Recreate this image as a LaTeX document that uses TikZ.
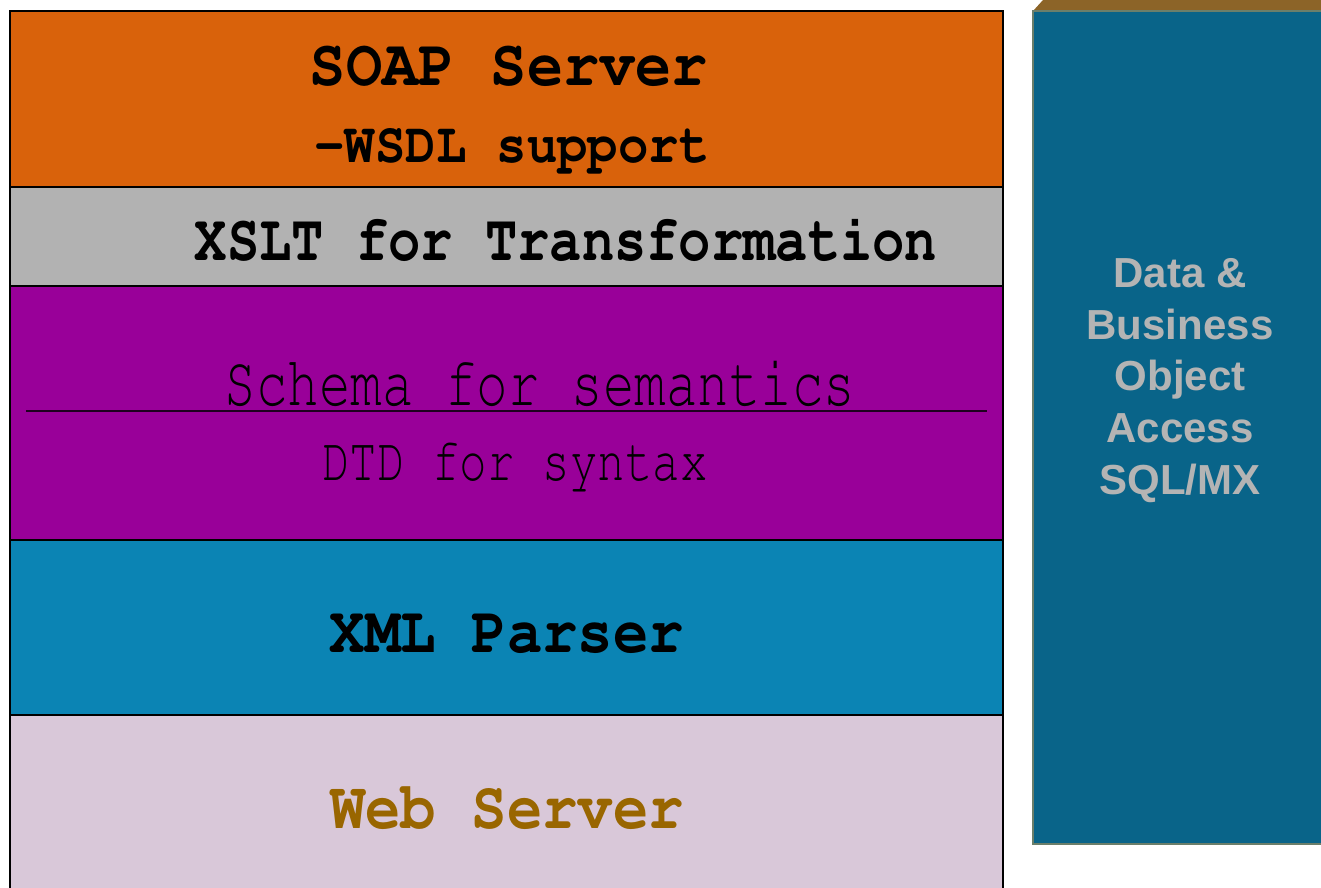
\documentclass[tikz,border=0pt]{standalone}
\usepackage[T1,TU]{fontenc}
\usepackage{fontspec}
\usepackage{graphicx}
\newfontfamily\arialb{Liberation Sans}
\newcommand\courb[1]{\fontencoding{T1}\fontfamily{pcr}\fontseries{b}\fontshape{n}\fontsize{#1}{#1}\selectfont}
\newcommand\courr[1]{\fontencoding{T1}\fontfamily{pcr}\fontseries{m}\fontshape{n}\fontsize{#1}{#1}\selectfont}
\definecolor{cOrange}{HTML}{D9620B}
\definecolor{cGray}{HTML}{B2B2B2}
\definecolor{cPurple}{HTML}{990099}
\definecolor{cBlue}{HTML}{0B84B4}
\definecolor{cLav}{HTML}{D9C8D9}
\definecolor{cTeal}{HTML}{096489}
\definecolor{cBrown}{HTML}{8C6428}
\definecolor{cEdge}{HTML}{6B7F6B}
\definecolor{cTxt}{HTML}{B4B4B4}
\definecolor{cWeb}{HTML}{996600}
\begin{document}
\begin{tikzpicture}[x=1pt,y=-1pt,
  layer/.style={draw=black, line width=1.5pt, minimum width=993pt, inner sep=0pt, outer sep=0pt},
  lbl/.style={anchor=base, inner sep=0pt}]
\useasboundingbox (0,0) rectangle (1321,887);
\begin{scope}
\clip (0,0) rectangle (1321,887);
% left stack
\node[layer, fill=cOrange, minimum height=176pt] (soap) at (506.5,99) {};
\node[layer, fill=cGray, minimum height=99pt] (xslt) at (506.5,236.5) {};
\node[layer, fill=cPurple, minimum height=254pt] (schema) at (506.5,413) {};
\node[layer, fill=cBlue, minimum height=175pt] (xml) at (506.5,627.5) {};
\node[layer, fill=cLav, minimum height=190pt] (web) at (506.5,810) {};
\coordinate (sl) at (26,411);
\coordinate (sr) at (987,411);
\draw[line width=1.5pt, black!80!cPurple] (sl) -- (sr);
% right box
\fill[cBrown] (1033,11) -- (1043,0) -- (1321,0) -- (1321,11) -- cycle;
\node[fill=cTeal, draw=cEdge, line width=1.5pt, minimum width=300pt, minimum height=833pt, inner sep=0pt, outer sep=0pt] (data) at (1183,427.5) {};
\end{scope}
% texts
\node[lbl] (t1) at (509,85) {\scalebox{0.914}[1]{\courb{66}SOAP Server}};
\node[lbl] (t2) at (512,162) {\scalebox{0.888}[1]{\courb{57}-WSDL support}};
\node[lbl] (t3) at (566,260) {\scalebox{0.815}[1]{\courb{66}XSLT for Transformation}};
\node[lbl] (t4) at (540,405) {\scalebox{0.74}[1]{\courr{71}Schema for semantics}};
\node[lbl] (t5) at (515,480) {\scalebox{0.74}[1]{\courr{62}DTD for syntax}};
\node[lbl] (t6) at (507,652) {\scalebox{0.894}[1]{\courb{66}XML Parser}};
\node[lbl, text=cWeb] (t7) at (507,828) {\scalebox{0.88}[1]{\courb{67}Web Server}};
\node[anchor=base, inner sep=0pt, align=center, text=cTxt, font=\arialb\bfseries\fontsize{42}{51.6}\selectfont] (t8) at (1180,494) {Data \&\\Business\\Object\\Access\\SQL/MX};
\end{tikzpicture}
\end{document}
